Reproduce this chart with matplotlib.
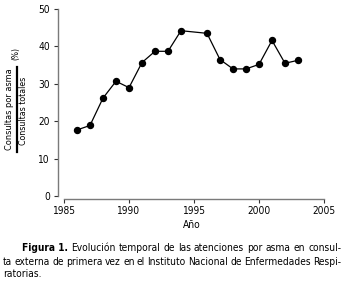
import matplotlib
matplotlib.use("Agg")
import matplotlib.pyplot as plt

years = [1986, 1987, 1988, 1989, 1990, 1991, 1992, 1993, 1994, 1996, 1997, 1998, 1999, 2000, 2001, 2002, 2003]
values = [17.7, 18.9, 26.2, 30.7, 29.0, 35.7, 38.7, 38.7, 44.2, 43.5, 36.5, 34.0, 34.0, 35.2, 41.6, 35.5, 36.3]
xticks = [1985, 1990, 1995, 2000, 2005]
yticks = [0, 10, 20, 30, 40, 50]

plt.rcParams['font.family'] = ['DejaVu Sans']
plt.rcParams['font.stretch'] = 'condensed'

W, H = 346, 285
fig = plt.figure(figsize=(W / 100, H / 100), dpi=100)
renderer = fig.canvas.get_renderer()
left, right = 58 / W, 326.6 / W
bottom, top = 1 - 198.5 / H, 1 - 7.1 / H
ax = fig.add_axes([left, bottom, right - left, top - bottom])
ax.plot(years, values, color='black', lw=0.9, marker='o', ms=4.3, mfc='black', mec='black')
ax.set_xlim(1984.54, 2005.2)
ax.set_ylim(-0.6, 50.5)
ax.spines['top'].set_visible(False)
ax.spines['right'].set_visible(False)
ax.spines['left'].set_bounds(0, 50)
ax.spines['bottom'].set_bounds(1985, 2005)
for s in ('left', 'bottom'):
    ax.spines[s].set_linewidth(1.0)
    ax.spines[s].set_color('#7a7a7a')
ax.set_xticks(xticks)
ax.set_yticks(yticks)
ax.tick_params(length=3.2, width=0.8, color='#333333', labelsize=7.3, pad=2.5)
ax.set_xlabel('Año', fontsize=7.3, labelpad=2.5)


def fitted(x, y, s, target, **kw):
    t = fig.text(x, y, s, fontsize=10, **kw)
    bb = t.get_window_extent(renderer)
    ext = bb.height if kw.get('rotation') == 90 else bb.width
    t.set_fontsize(10 * target / ext)
    return t

# y label as fraction
fitted(10 / W, 1 - 109 / H, 'Consultas por asma', 82, rotation=90, ha='center', va='center')
fitted(23.5 / W, 1 - 111 / H, 'Consultas totales', 68, rotation=90, ha='center', va='center')
fig.add_artist(plt.Line2D([16.5 / W, 16.5 / W], [1 - 67 / H, 1 - 152 / H], color='black', lw=1.6))
fitted(16 / W, 1 - 53.5 / H, '(%)', 13, rotation=90, ha='center', va='center')

# caption, justified
lines = [
    (22, 248, [('Figura 1.', 'bold')] + [(w, 'normal') for w in 'Evolución temporal de las atenciones por asma en consul-'.split()], True),
    (3, 262, [(w, 'normal') for w in 'ta externa de primera vez en el Instituto Nacional de Enfermedades Respi-'.split()], True),
    (3, 274, [(w, 'normal') for w in 'ratorias.'.split()], False),
]
x_end = 341
all_texts = []
for x0, yc, words, justify in lines:
    texts = [fig.text(0, 1 - yc / H, w, fontsize=10, fontweight=wt, va='center', ha='left') for w, wt in words]
    all_texts.append((x0, texts, justify))

fs = 8.0
for _ in range(6):
    new = 30.0
    for x0, texts, justify in all_texts:
        if justify:
            for t in texts:
                t.set_fontsize(fs)
            tot = sum(t.get_window_extent(renderer).width for t in texts)
            avail = x_end - x0 - 2.6 * (len(texts) - 1)
            new = min(new, fs * avail / tot)
    fs = new
for x0, texts, justify in all_texts:
    for t in texts:
        t.set_fontsize(fs)
    widths = [t.get_window_extent(renderer).width for t in texts]
    gap = (x_end - x0 - sum(widths)) / (len(texts) - 1) if (justify and len(texts) > 1) else 3
    x = x0
    for t, wd in zip(texts, widths):
        t.set_x(x / W)
        x += wd + gap

fig.savefig('out.png', dpi=100)
